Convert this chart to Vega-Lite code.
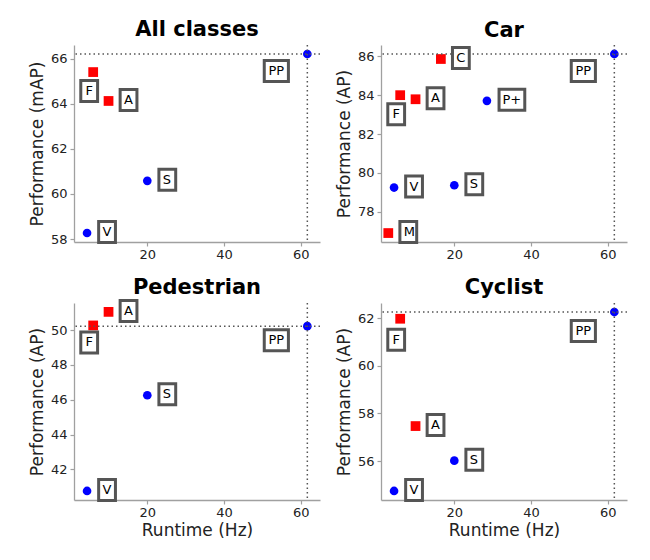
{
  "$schema": "https://vega.github.io/schema/vega-lite/v6.json",
  "padding": {"left": 28, "top": 18, "right": 5, "bottom": 5},
  "background": "white",
  "datasets": {
    "pts": [
      {"panel": "All classes", "label": "PP", "runtime": 61.7, "perf": 66.2, "group": "Type 1", "place": "belowleft"},
      {"panel": "All classes", "label": "F", "runtime": 5.9, "perf": 65.4, "group": "Type 2", "place": "below"},
      {"panel": "All classes", "label": "A", "runtime": 9.9, "perf": 64.12, "group": "Type 2", "place": "right"},
      {"panel": "All classes", "label": "S", "runtime": 20, "perf": 60.58, "group": "Type 1", "place": "right"},
      {"panel": "All classes", "label": "V", "runtime": 4.3, "perf": 58.27, "group": "Type 1", "place": "right"},
      {"panel": "Car", "label": "PP", "runtime": 61.7, "perf": 86.12, "group": "Type 1", "place": "belowleft"},
      {"panel": "Car", "label": "C", "runtime": 16.5, "perf": 85.86, "group": "Type 2", "place": "right"},
      {"panel": "Car", "label": "F", "runtime": 5.9, "perf": 84.0, "group": "Type 2", "place": "below"},
      {"panel": "Car", "label": "A", "runtime": 9.9, "perf": 83.79, "group": "Type 2", "place": "right"},
      {"panel": "Car", "label": "P+", "runtime": 28.5, "perf": 83.71, "group": "Type 1", "place": "right"},
      {"panel": "Car", "label": "V", "runtime": 4.3, "perf": 79.25, "group": "Type 1", "place": "right"},
      {"panel": "Car", "label": "S", "runtime": 20, "perf": 79.37, "group": "Type 1", "place": "right"},
      {"panel": "Car", "label": "M", "runtime": 2.8, "perf": 76.91, "group": "Type 2", "place": "right"},
      {"panel": "Pedestrian", "label": "PP", "runtime": 61.7, "perf": 50.23, "group": "Type 1", "place": "belowleft"},
      {"panel": "Pedestrian", "label": "A", "runtime": 9.9, "perf": 51.05, "group": "Type 2", "place": "right"},
      {"panel": "Pedestrian", "label": "F", "runtime": 5.9, "perf": 50.27, "group": "Type 2", "place": "below"},
      {"panel": "Pedestrian", "label": "S", "runtime": 20, "perf": 46.26, "group": "Type 1", "place": "right"},
      {"panel": "Pedestrian", "label": "V", "runtime": 4.3, "perf": 40.76, "group": "Type 1", "place": "right"},
      {"panel": "Cyclist", "label": "PP", "runtime": 61.7, "perf": 62.25, "group": "Type 1", "place": "belowleft"},
      {"panel": "Cyclist", "label": "F", "runtime": 5.9, "perf": 61.97, "group": "Type 2", "place": "below"},
      {"panel": "Cyclist", "label": "A", "runtime": 9.9, "perf": 57.47, "group": "Type 2", "place": "right"},
      {"panel": "Cyclist", "label": "S", "runtime": 20, "perf": 56.02, "group": "Type 1", "place": "right"},
      {"panel": "Cyclist", "label": "V", "runtime": 4.3, "perf": 54.75, "group": "Type 1", "place": "right"}
    ]
  },
  "columns": 2,
  "spacing": 61,
  "bounds": "flush",
  "concat": [
    {
      "width": 246, "height": 197,
      "title": {"text": "All classes"},
      "data": {"name": "pts"},
      "transform": [{"filter": "datum.panel === 'All classes'"}],
      "encoding": {
        "x": {"field": "runtime", "type": "quantitative", "scale": {"domain": [0.9, 65], "nice": false, "zero": false}, "axis": {"title": null, "values": [20, 40, 60]}},
        "y": {"field": "perf", "type": "quantitative", "scale": {"domain": [57.87, 66.6], "nice": false, "zero": false}, "axis": {"title": "Performance (mAP)", "values": [58, 60, 62, 64, 66]}}
      },
      "layer": [
        {"transform": [{"filter": "datum.group === 'Type 1'"}], "mark": {"type": "point", "shape": "circle", "filled": true, "color": "#0000ff", "opacity": 1, "size": 75}},
        {"transform": [{"filter": "datum.group === 'Type 2'"}], "mark": {"type": "point", "shape": "square", "filled": true, "color": "#ff0000", "opacity": 1, "size": 95}},
        {"transform": [{"filter": "datum.label === 'PP'"}], "mark": {"type": "rule", "color": "#555555", "strokeWidth": 1.5, "strokeDash": [1.5, 3]}, "encoding": {"x": null}},
        {"transform": [{"filter": "datum.label === 'PP'"}], "mark": {"type": "rule", "color": "#555555", "strokeWidth": 1.5, "strokeDash": [1.5, 3]}, "encoding": {"y": null}},
        {"transform": [{"filter": "datum.place === 'right'"}], "mark": {"type": "point", "fill": "white", "stroke": "#555555", "strokeWidth": 3, "opacity": 1, "size": 441, "xOffset": 20, "yOffset": -1},
         "encoding": {"shape": {"condition": {"test": "datum.label === 'P+'", "value": "M-0.75,-1H1.7V1H-0.75Z"}, "value": "M-0.8,-1H0.8V1H-0.8Z"}}},
        {"transform": [{"filter": "datum.place === 'right'"}], "mark": {"type": "text", "align": "left", "baseline": "middle", "dx": 15.5, "dy": -1, "font": "DejaVu Sans", "fontSize": 13, "color": "black"}, "encoding": {"text": {"field": "label"}}},
        {"transform": [{"filter": "datum.place === 'below'"}], "mark": {"type": "point", "shape": "M-0.8,-1H0.8V1H-0.8Z", "fill": "white", "stroke": "#555555", "strokeWidth": 3, "opacity": 1, "size": 441, "xOffset": -4, "yOffset": 19}},
        {"transform": [{"filter": "datum.place === 'below'"}], "mark": {"type": "text", "align": "center", "baseline": "middle", "dx": -4, "dy": 19, "font": "DejaVu Sans", "fontSize": 13, "color": "black"}, "encoding": {"text": {"field": "label"}}},
        {"transform": [{"filter": "datum.place === 'belowleft'"}], "mark": {"type": "point", "shape": "M-1.15,-1H1.15V1H-1.15Z", "fill": "white", "stroke": "#555555", "strokeWidth": 3, "opacity": 1, "size": 441, "xOffset": -31, "yOffset": 17}},
        {"transform": [{"filter": "datum.place === 'belowleft'"}], "mark": {"type": "text", "align": "center", "baseline": "middle", "dx": -31, "dy": 17, "font": "DejaVu Sans", "fontSize": 13, "color": "black"}, "encoding": {"text": {"field": "label"}}}
      ]
    },
    {
      "width": 246, "height": 197,
      "title": {"text": "Car", "dy": 3.5},
      "data": {"name": "pts"},
      "transform": [{"filter": "datum.panel === 'Car'"}],
      "encoding": {
        "x": {"field": "runtime", "type": "quantitative", "scale": {"domain": [0.9, 65], "nice": false, "zero": false}, "axis": {"title": null, "values": [20, 40, 60]}},
        "y": {"field": "perf", "type": "quantitative", "scale": {"domain": [76.45, 86.58], "nice": false, "zero": false}, "axis": {"title": "Performance (AP)", "values": [78, 80, 82, 84, 86]}}
      },
      "layer": [
        {"transform": [{"filter": "datum.group === 'Type 1'"}], "mark": {"type": "point", "shape": "circle", "filled": true, "color": "#0000ff", "opacity": 1, "size": 75}},
        {"transform": [{"filter": "datum.group === 'Type 2'"}], "mark": {"type": "point", "shape": "square", "filled": true, "color": "#ff0000", "opacity": 1, "size": 95}},
        {"transform": [{"filter": "datum.label === 'PP'"}], "mark": {"type": "rule", "color": "#555555", "strokeWidth": 1.5, "strokeDash": [1.5, 3]}, "encoding": {"x": null}},
        {"transform": [{"filter": "datum.label === 'PP'"}], "mark": {"type": "rule", "color": "#555555", "strokeWidth": 1.5, "strokeDash": [1.5, 3]}, "encoding": {"y": null}},
        {"transform": [{"filter": "datum.place === 'right'"}], "mark": {"type": "point", "fill": "white", "stroke": "#555555", "strokeWidth": 3, "opacity": 1, "size": 441, "xOffset": 20, "yOffset": -1},
         "encoding": {"shape": {"condition": {"test": "datum.label === 'P+'", "value": "M-0.75,-1H1.7V1H-0.75Z"}, "value": "M-0.8,-1H0.8V1H-0.8Z"}}},
        {"transform": [{"filter": "datum.place === 'right'"}], "mark": {"type": "text", "align": "left", "baseline": "middle", "dx": 15.5, "dy": -1, "font": "DejaVu Sans", "fontSize": 13, "color": "black"}, "encoding": {"text": {"field": "label"}}},
        {"transform": [{"filter": "datum.place === 'below'"}], "mark": {"type": "point", "shape": "M-0.8,-1H0.8V1H-0.8Z", "fill": "white", "stroke": "#555555", "strokeWidth": 3, "opacity": 1, "size": 441, "xOffset": -4, "yOffset": 19}},
        {"transform": [{"filter": "datum.place === 'below'"}], "mark": {"type": "text", "align": "center", "baseline": "middle", "dx": -4, "dy": 19, "font": "DejaVu Sans", "fontSize": 13, "color": "black"}, "encoding": {"text": {"field": "label"}}},
        {"transform": [{"filter": "datum.place === 'belowleft'"}], "mark": {"type": "point", "shape": "M-1.15,-1H1.15V1H-1.15Z", "fill": "white", "stroke": "#555555", "strokeWidth": 3, "opacity": 1, "size": 441, "xOffset": -31, "yOffset": 17}},
        {"transform": [{"filter": "datum.place === 'belowleft'"}], "mark": {"type": "text", "align": "center", "baseline": "middle", "dx": -31, "dy": 17, "font": "DejaVu Sans", "fontSize": 13, "color": "black"}, "encoding": {"text": {"field": "label"}}}
      ]
    },
    {
      "width": 246, "height": 197,
      "title": {"text": "Pedestrian", "dy": 8.6},
      "data": {"name": "pts"},
      "transform": [{"filter": "datum.panel === 'Pedestrian'"}],
      "encoding": {
        "x": {"field": "runtime", "type": "quantitative", "scale": {"domain": [0.9, 65], "nice": false, "zero": false}, "axis": {"title": "Runtime (Hz)", "values": [20, 40, 60]}},
        "y": {"field": "perf", "type": "quantitative", "scale": {"domain": [40.24, 51.56], "nice": false, "zero": false}, "axis": {"title": "Performance (AP)", "values": [42, 44, 46, 48, 50]}}
      },
      "layer": [
        {"transform": [{"filter": "datum.group === 'Type 1'"}], "mark": {"type": "point", "shape": "circle", "filled": true, "color": "#0000ff", "opacity": 1, "size": 75}},
        {"transform": [{"filter": "datum.group === 'Type 2'"}], "mark": {"type": "point", "shape": "square", "filled": true, "color": "#ff0000", "opacity": 1, "size": 95}},
        {"transform": [{"filter": "datum.label === 'PP'"}], "mark": {"type": "rule", "color": "#555555", "strokeWidth": 1.5, "strokeDash": [1.5, 3]}, "encoding": {"x": null}},
        {"transform": [{"filter": "datum.label === 'PP'"}], "mark": {"type": "rule", "color": "#555555", "strokeWidth": 1.5, "strokeDash": [1.5, 3]}, "encoding": {"y": null}},
        {"transform": [{"filter": "datum.place === 'right'"}], "mark": {"type": "point", "fill": "white", "stroke": "#555555", "strokeWidth": 3, "opacity": 1, "size": 441, "xOffset": 20, "yOffset": -1},
         "encoding": {"shape": {"condition": {"test": "datum.label === 'P+'", "value": "M-0.75,-1H1.7V1H-0.75Z"}, "value": "M-0.8,-1H0.8V1H-0.8Z"}}},
        {"transform": [{"filter": "datum.place === 'right'"}], "mark": {"type": "text", "align": "left", "baseline": "middle", "dx": 15.5, "dy": -1, "font": "DejaVu Sans", "fontSize": 13, "color": "black"}, "encoding": {"text": {"field": "label"}}},
        {"transform": [{"filter": "datum.place === 'below'"}], "mark": {"type": "point", "shape": "M-0.8,-1H0.8V1H-0.8Z", "fill": "white", "stroke": "#555555", "strokeWidth": 3, "opacity": 1, "size": 441, "xOffset": -4, "yOffset": 17}},
        {"transform": [{"filter": "datum.place === 'below'"}], "mark": {"type": "text", "align": "center", "baseline": "middle", "dx": -4, "dy": 17, "font": "DejaVu Sans", "fontSize": 13, "color": "black"}, "encoding": {"text": {"field": "label"}}},
        {"transform": [{"filter": "datum.place === 'belowleft'"}], "mark": {"type": "point", "shape": "M-1.15,-1H1.15V1H-1.15Z", "fill": "white", "stroke": "#555555", "strokeWidth": 3, "opacity": 1, "size": 441, "xOffset": -31, "yOffset": 14}},
        {"transform": [{"filter": "datum.place === 'belowleft'"}], "mark": {"type": "text", "align": "center", "baseline": "middle", "dx": -31, "dy": 14, "font": "DejaVu Sans", "fontSize": 13, "color": "black"}, "encoding": {"text": {"field": "label"}}}
      ]
    },
    {
      "width": 246, "height": 197,
      "title": {"text": "Cyclist"},
      "data": {"name": "pts"},
      "transform": [{"filter": "datum.panel === 'Cyclist'"}],
      "encoding": {
        "x": {"field": "runtime", "type": "quantitative", "scale": {"domain": [0.9, 65], "nice": false, "zero": false}, "axis": {"title": "Runtime (Hz)", "values": [20, 40, 60]}},
        "y": {"field": "perf", "type": "quantitative", "scale": {"domain": [54.37, 62.63], "nice": false, "zero": false}, "axis": {"title": "Performance (AP)", "values": [56, 58, 60, 62]}}
      },
      "layer": [
        {"transform": [{"filter": "datum.group === 'Type 1'"}], "mark": {"type": "point", "shape": "circle", "filled": true, "color": "#0000ff", "opacity": 1, "size": 75}},
        {"transform": [{"filter": "datum.group === 'Type 2'"}], "mark": {"type": "point", "shape": "square", "filled": true, "color": "#ff0000", "opacity": 1, "size": 95}},
        {"transform": [{"filter": "datum.label === 'PP'"}], "mark": {"type": "rule", "color": "#555555", "strokeWidth": 1.5, "strokeDash": [1.5, 3]}, "encoding": {"x": null}},
        {"transform": [{"filter": "datum.label === 'PP'"}], "mark": {"type": "rule", "color": "#555555", "strokeWidth": 1.5, "strokeDash": [1.5, 3]}, "encoding": {"y": null}},
        {"transform": [{"filter": "datum.place === 'right'"}], "mark": {"type": "point", "fill": "white", "stroke": "#555555", "strokeWidth": 3, "opacity": 1, "size": 441, "xOffset": 20, "yOffset": -1},
         "encoding": {"shape": {"condition": {"test": "datum.label === 'P+'", "value": "M-0.75,-1H1.7V1H-0.75Z"}, "value": "M-0.8,-1H0.8V1H-0.8Z"}}},
        {"transform": [{"filter": "datum.place === 'right'"}], "mark": {"type": "text", "align": "left", "baseline": "middle", "dx": 15.5, "dy": -1, "font": "DejaVu Sans", "fontSize": 13, "color": "black"}, "encoding": {"text": {"field": "label"}}},
        {"transform": [{"filter": "datum.place === 'below'"}], "mark": {"type": "point", "shape": "M-0.8,-1H0.8V1H-0.8Z", "fill": "white", "stroke": "#555555", "strokeWidth": 3, "opacity": 1, "size": 441, "xOffset": -4, "yOffset": 21}},
        {"transform": [{"filter": "datum.place === 'below'"}], "mark": {"type": "text", "align": "center", "baseline": "middle", "dx": -4, "dy": 21, "font": "DejaVu Sans", "fontSize": 13, "color": "black"}, "encoding": {"text": {"field": "label"}}},
        {"transform": [{"filter": "datum.place === 'belowleft'"}], "mark": {"type": "point", "shape": "M-1.15,-1H1.15V1H-1.15Z", "fill": "white", "stroke": "#555555", "strokeWidth": 3, "opacity": 1, "size": 441, "xOffset": -31, "yOffset": 19}},
        {"transform": [{"filter": "datum.place === 'belowleft'"}], "mark": {"type": "text", "align": "center", "baseline": "middle", "dx": -31, "dy": 19, "font": "DejaVu Sans", "fontSize": 13, "color": "black"}, "encoding": {"text": {"field": "label"}}}
      ]
    }
  ],
  "config": {
    "view": {"stroke": null},
    "font": "DejaVu Sans",
    "title": {"font": "DejaVu Sans", "fontSize": 21, "fontWeight": "bold", "color": "black", "offset": 4.5, "anchor": "middle", "frame": "group", "baseline": "alphabetic"},
    "axis": {
      "grid": false,
      "labelFont": "DejaVu Sans", "labelFontSize": 13, "labelColor": "#222222",
      "titleFont": "DejaVu Sans", "titleFontSize": 17, "titleFontWeight": "normal", "titleColor": "#222222",
      "domainColor": "#a0a0a0", "domainWidth": 1.3, "tickColor": "#a0a0a0", "tickSize": 4, "tickWidth": 1.2,
      "labelPadding": 3, "titlePadding": 4
    },
    "axisX": {"labelPadding": 2, "titlePadding": 3}
  }
}
